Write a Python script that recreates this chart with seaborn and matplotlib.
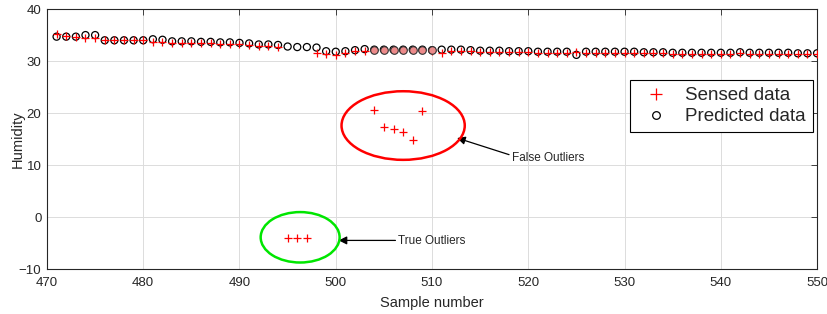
import numpy as np
import matplotlib
matplotlib.use("Agg")
import matplotlib.pyplot as plt
import seaborn as sns
from matplotlib.lines import Line2D
from matplotlib.patches import Ellipse

# --- data ---
samples = np.arange(471, 551)

predicted = [
    34.7, 34.7, 34.7, 35.0, 35.0, 34.0, 34.0, 34.0, 34.0, 34.0,   # 471-480
    34.2, 34.1, 33.8, 33.8, 33.8, 33.7, 33.7, 33.6, 33.6, 33.5,   # 481-490
    33.4, 33.2, 33.2, 33.1, 32.8, 32.7, 32.7, 32.6, 31.9, 31.8,   # 491-500
    31.9, 32.1, 32.3, 32.2, 32.2, 32.2, 32.2, 32.2, 32.2, 32.1,   # 501-510
    32.2, 32.2, 32.2, 32.1, 32.0, 32.0, 32.0, 31.9, 31.9, 31.9,   # 511-520
    31.8, 31.8, 31.8, 31.8, 31.2, 31.8, 31.8, 31.8, 31.8, 31.8,   # 521-530
    31.8, 31.7, 31.7, 31.7, 31.6, 31.6, 31.6, 31.6, 31.6, 31.6,   # 531-540
    31.6, 31.7, 31.6, 31.6, 31.6, 31.6, 31.6, 31.5, 31.5, 31.5,   # 541-550
]

sensed = [
    35.2, 34.9, 34.7, 34.5, 34.4, 34.0, 34.0, 34.0, 34.0, 34.0,   # 471-480
    33.7, 33.6, 33.5, 33.5, 33.5, 33.4, 33.4, 33.3, 33.3, 33.2,   # 481-490
    33.1, 32.9, 32.9, 32.8, -4.0, -4.0, -4.0, 31.5, 31.3, 31.2,   # 491-500
    31.6, 31.9, 32.0, 20.6, 17.4, 17.0, 16.4, 14.9, 20.4, 32.0,   # 501-510
    31.6, 32.0, 32.0, 31.9, 31.8, 31.8, 31.8, 31.7, 31.7, 31.7,   # 511-520
    31.6, 31.6, 31.6, 31.6, 31.8, 31.6, 31.6, 31.6, 31.6, 31.6,   # 521-530
    31.6, 31.5, 31.5, 31.5, 31.4, 31.4, 31.4, 31.4, 31.4, 31.4,   # 531-540
    31.4, 31.5, 31.4, 31.4, 31.4, 31.4, 31.4, 31.3, 31.3, 31.3,   # 541-550
]

# samples where the predicted value replaced a false outlier
replaced = np.arange(504, 511)

sns.set_style("whitegrid")
plt.rcParams["font.family"] = ["Liberation Sans", "DejaVu Sans"]

fig = plt.figure(figsize=(8.27, 3.14), dpi=100)
ax = fig.add_axes([0.0568, 0.1433, 0.9312, 0.8277])

pred = np.array(predicted)
sens = np.array(sensed)
mask = np.isin(samples, replaced)

sns.scatterplot(x=samples, y=pred, ax=ax, marker="o", s=26,
                facecolor="none", edgecolor="black", linewidth=0.9, zorder=3)
sns.scatterplot(x=samples, y=sens, ax=ax, marker="+", s=30,
                color="red", linewidth=0.9, zorder=4)
# filled circles where a false outlier was replaced by the prediction
ax.scatter(samples[mask], pred[mask], marker="o", s=30,
           facecolors="#ec8a8a", edgecolors="#333333", linewidths=0.8, zorder=5)

# outlier annotations
ax.add_patch(Ellipse((507.0, 17.6), 12.8, 13.2, fill=False,
                     edgecolor="red", linewidth=1.8, zorder=6))
ax.add_patch(Ellipse((496.3, -3.9), 8.2, 9.7, fill=False,
                     edgecolor="#00e600", linewidth=1.8, zorder=6))

arrow = dict(arrowstyle="-|>", color="black", lw=0.9, mutation_scale=12,
             shrinkA=0, shrinkB=0)
ax.annotate("", xy=(512.6, 15.2), xytext=(518.0, 12.0), arrowprops=arrow)
ax.text(518.3, 11.4, "False Outliers", fontsize=8.5, va="center", ha="left")
ax.annotate("", xy=(500.3, -4.5), xytext=(506.2, -4.5), arrowprops=arrow)
ax.text(506.5, -4.6, "True Outliers", fontsize=8.5, va="center", ha="left")

ax.set_xlim(470, 550)
ax.set_ylim(-10, 40)
ax.set_xticks(range(470, 551, 10))
ax.set_yticks(range(-10, 41, 10))
ax.set_xlabel("Sample number", fontsize=10.5, color="#262626", labelpad=5)
ax.set_ylabel("Humidity", fontsize=10.5, color="#262626", labelpad=-4)
ax.tick_params(direction="in", length=4, width=0.6, labelsize=9.5,
               colors="#262626", top=True, right=True)
ax.tick_params(axis="x", pad=6)
ax.tick_params(axis="y", pad=4)
ax.grid(True, color="#dcdcdc", linewidth=0.7)
for sp in ax.spines.values():
    sp.set_edgecolor("#262626")
    sp.set_linewidth(0.8)

handles = [
    Line2D([], [], marker="+", color="red", linestyle="none",
           markersize=8, markeredgewidth=0.9),
    Line2D([], [], marker="o", markerfacecolor="none", markeredgecolor="black",
           linestyle="none", markersize=5.5, markeredgewidth=0.9),
]
leg = ax.legend(handles, ["Sensed data", "Predicted data"], loc="upper right",
                bbox_to_anchor=(0.995, 0.727), borderaxespad=0, fontsize=13.5,
                fancybox=False, framealpha=1, edgecolor="black",
                handletextpad=0.5, borderpad=0.38, labelspacing=0.2,
                handlelength=2.1)
leg.get_frame().set_linewidth(0.8)

fig.savefig("out.png", dpi=100)
